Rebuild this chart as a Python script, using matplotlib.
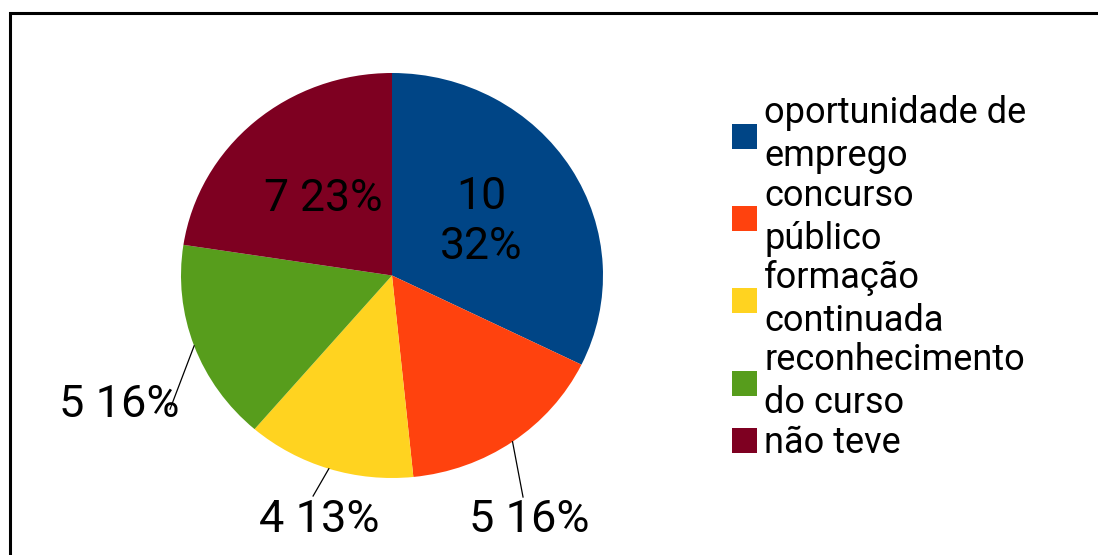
import matplotlib
matplotlib.use("Agg")
import matplotlib.pyplot as plt
import numpy as np
from matplotlib.patches import Rectangle

plt.rcParams['font.family'] = ['Roboto', 'DejaVu Sans']

# Survey answers
categories = ["oportunidade de\nemprego", "concurso\npúblico", "formação\ncontinuada",
              "reconhecimento\ndo curso", "não teve"]
counts = [10, 5, 4, 5, 7]
colors = ["#004586", "#ff420e", "#ffd320", "#579d1c", "#7e0021"]

total = sum(counts)
percents = [round(c / total * 100) for c in counts]

fig = plt.figure(figsize=(10.98, 5.55), dpi=100)

# outer frame, open at the right and bottom edges
fig.patches.append(Rectangle((9.5 / 1098, -0.1), 1.2, (555 - 13.5) / 555 + 0.1,
                             transform=fig.transFigure, fill=False,
                             edgecolor="black", linewidth=2.2))

ax = fig.add_axes([181 / 1098, 77 / 555, 422 / 1098, 405 / 555])
wedges, _ = ax.pie(counts, colors=colors, startangle=90, counterclock=False,
                   wedgeprops=dict(linewidth=0))
ax.set_aspect("auto")
ax.set_xlim(-1, 1)
ax.set_ylim(-1, 1)
ax.axis("off")

# inside labels for the big slices, outside labels with leader lines for the rest
inside = {0: "\n", 4: " "}
outside = {1: ((0.621, -1.094), (0.649, -1.208)),
           2: ((-0.374, -1.089), (-0.346, -1.208)),
           3: ((-1.052, -0.66), (-1.292, -0.639))}

for i, w in enumerate(wedges):
    mid = np.deg2rad((w.theta1 + w.theta2) / 2)
    if i in inside:
        txt = f"{counts[i]}{inside[i]}{percents[i]}%"
        ax.text(0.5 * np.cos(mid), 0.5 * np.sin(mid), txt, ha="center", va="center",
                fontsize=32, linespacing=1.22, color="black")
    else:
        end, pos = outside[i]
        ax.plot([np.cos(mid), end[0]], [np.sin(mid), end[1]], color="black",
                linewidth=0.9, clip_on=False)
        ax.text(pos[0], pos[1], f"{counts[i]} {percents[i]}%", ha="center", va="center",
                fontsize=32.5, color="black", clip_on=False)

leg = fig.legend(wedges, categories, loc="upper left", bbox_to_anchor=(0.6665, 0.828),
                 frameon=False, fontsize=26, handlelength=0.7, handleheight=0.7,
                 handletextpad=0.2, labelspacing=0.1, borderpad=0, borderaxespad=0)
for t in leg.get_texts():
    t.set_linespacing(1.24)

fig.savefig("out.png", dpi=100)
